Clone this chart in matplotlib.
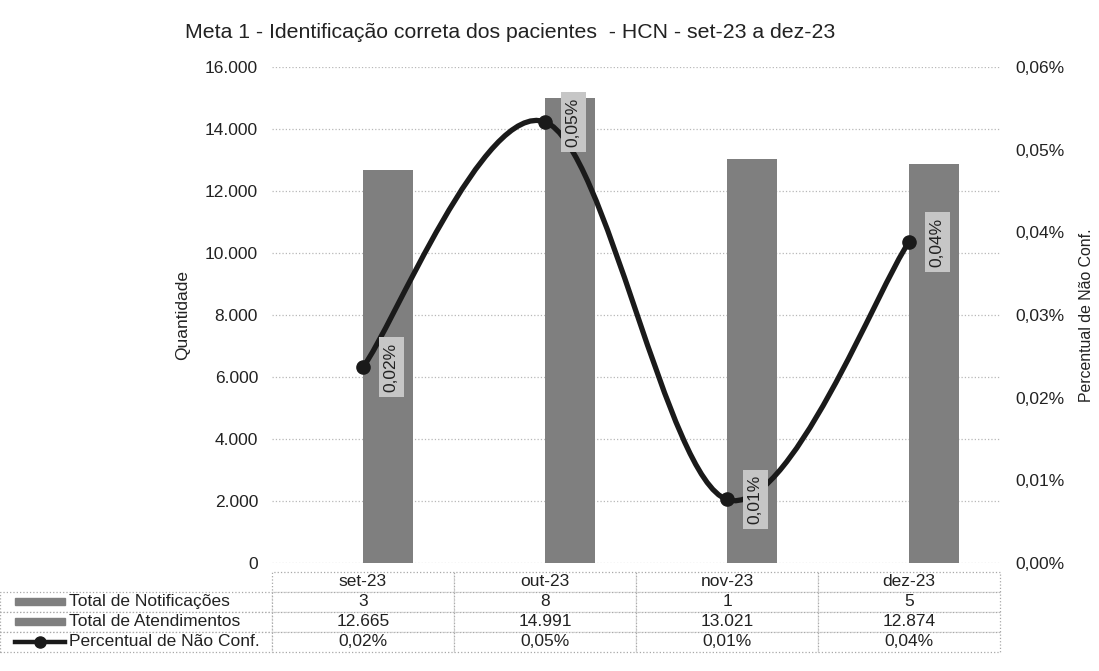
"""Meta 1 - Identificação correta dos pacientes (HCN), set-23 a dez-23."""

import matplotlib.pyplot as plt
import numpy as np
from matplotlib.lines import Line2D
from matplotlib.patches import PathPatch, Rectangle
from matplotlib.path import Path
from matplotlib.ticker import FuncFormatter, MultipleLocator

plt.rcParams["font.family"] = ["Liberation Sans", "DejaVu Sans"]

# ---------------------------------------------------------------------------
# Data
# ---------------------------------------------------------------------------
meses = ["set-23", "out-23", "nov-23", "dez-23"]
notificacoes = [3, 8, 1, 5]
atendimentos = [12665, 14991, 13021, 12874]
percentual = [100.0 * n / a for n, a in zip(notificacoes, atendimentos)]

serie_labels = ["Total de Notificações", "Total de Atendimentos",
                "Percentual de Não Conf."]

BAR_COLOR = "#7f7f7f"
LINE_COLOR = "#1a1a1a"
GRID_COLOR = "#b8b8b8"
TEXT_COLOR = "#222222"
FS = 12.5


def fmt_int(v):
    return f"{v:,.0f}".replace(",", ".")


def fmt_pct(v):
    return f"{v:.2f}%".replace(".", ",")


def smooth_path(xs, ys):
    """Excel-like smoothed line as cubic Bezier segments (Catmull-Rom)."""
    pts = np.column_stack([xs, ys]).astype(float)
    n = len(pts)
    verts = [pts[0]]
    codes = [Path.MOVETO]
    for i in range(n - 1):
        p0 = pts[max(i - 1, 0)]
        p1 = pts[i]
        p2 = pts[i + 1]
        p3 = pts[min(i + 2, n - 1)]
        verts += [p1 + (p2 - p0) / 6.0, p2 - (p3 - p1) / 6.0, p2]
        codes += [Path.CURVE4] * 3
    return Path(verts, codes)


# ---------------------------------------------------------------------------
# Figure
# ---------------------------------------------------------------------------
fig = plt.figure(figsize=(10.99, 6.71), dpi=100)
ax = fig.add_axes([0.2475, 0.161, 0.6625, 0.739])
ax2 = ax.twinx()

x = np.arange(len(meses))
w = 0.275
ax.bar(x - w / 2, notificacoes, width=w, color=BAR_COLOR, zorder=2)
ax.bar(x + w / 2, atendimentos, width=w, color=BAR_COLOR, zorder=2)

ax.set_xlim(-0.5, len(meses) - 0.5)
ax.set_ylim(0, 16000)
ax.yaxis.set_major_locator(MultipleLocator(2000))
ax.yaxis.set_major_formatter(FuncFormatter(lambda v, _: fmt_int(v)))
ax.set_xticks([])
ax.yaxis.grid(True, linestyle=":", color=GRID_COLOR, linewidth=0.9, zorder=0)
ax.set_axisbelow(True)
ax.tick_params(axis="y", length=0, pad=10, labelsize=FS, labelcolor=TEXT_COLOR)
ax.set_ylabel("Quantidade", fontsize=FS, color=TEXT_COLOR)
ax.yaxis.set_label_coords(-0.112, 0.5)

# percent line on the secondary axis
ax2.set_ylim(0, 0.06)
ax2.yaxis.set_major_locator(MultipleLocator(0.01))
ax2.yaxis.set_major_formatter(FuncFormatter(lambda v, _: fmt_pct(v)))
ax2.tick_params(axis="y", length=0, pad=11, labelsize=FS, labelcolor=TEXT_COLOR)
ax2.set_ylabel("Percentual de Não Conf.", fontsize=11.4, color=TEXT_COLOR)
ax2.yaxis.set_label_coords(1.108, 0.5)

ax2.add_patch(PathPatch(smooth_path(x, percentual), fill=False,
                        edgecolor=LINE_COLOR, linewidth=3.8, zorder=3,
                        capstyle="round"))
ax2.plot(x, percentual, linestyle="none", marker="o", markersize=9.5,
         color=LINE_COLOR, zorder=4)
for xi, p in zip(x, percentual):
    ax2.text(xi + 0.155, p, fmt_pct(p), rotation=90, ha="center", va="center",
             fontsize=FS, color=TEXT_COLOR, zorder=5,
             bbox=dict(boxstyle="square,pad=0.3", fc="#c6c6c6", ec="none"))

for a in (ax, ax2):
    for s in a.spines.values():
        s.set_visible(False)

fig.text(0.464, 0.952,
         "Meta 1 - Identificação correta dos pacientes  - HCN - set-23 a dez-23",
         ha="center", va="center", fontsize=15.3, color=TEXT_COLOR)

# ---------------------------------------------------------------------------
# Data table below the plot
# ---------------------------------------------------------------------------
label_w = 272 / 728
tbl_top, tbl_h = -0.018, 0.161
rows = [
    [""] + [str(v) for v in notificacoes],
    [""] + [fmt_int(v) for v in atendimentos],
    [""] + [fmt_pct(v) for v in percentual],
]
tbl = ax.table(cellText=rows, colLabels=[""] + meses, cellLoc="center",
               colWidths=[label_w] + [1 / len(meses)] * len(meses),
               bbox=[-label_w, tbl_top - tbl_h, 1 + label_w, tbl_h])
tbl.auto_set_font_size(False)
tbl.set_fontsize(FS)
for (r, c), cell in tbl.get_celld().items():
    cell.set_edgecolor("#a8a8a8")
    cell.set_linestyle(":")
    cell.set_linewidth(0.9)
    cell.get_text().set_color(TEXT_COLOR)
    if r == 0 and c == 0:
        cell.visible_edges = "open"

# legend keys and series names inside the row-label cells
row_h = tbl_h / 4
kx0, kx1 = -label_w + 15 / 728, -label_w + 65 / 728
tx = -label_w + 69 / 728
for i, name in enumerate(serie_labels):
    yc = tbl_top - (i + 1.5) * row_h
    if i < 2:
        ax.add_patch(Rectangle((kx0, yc - 0.007), kx1 - kx0, 0.014,
                               transform=ax.transAxes, color=BAR_COLOR,
                               clip_on=False))
    else:
        ax.add_line(Line2D([kx0, kx1], [yc, yc], transform=ax.transAxes,
                           color=LINE_COLOR, linewidth=3.2, clip_on=False))
        ax.add_line(Line2D([(kx0 + kx1) / 2], [yc], transform=ax.transAxes,
                           marker="o", markersize=8, color=LINE_COLOR,
                           clip_on=False))
    ax.text(tx, yc, name, transform=ax.transAxes, ha="left", va="center",
            fontsize=FS, color=TEXT_COLOR)

fig.savefig("out.png", dpi=100)
